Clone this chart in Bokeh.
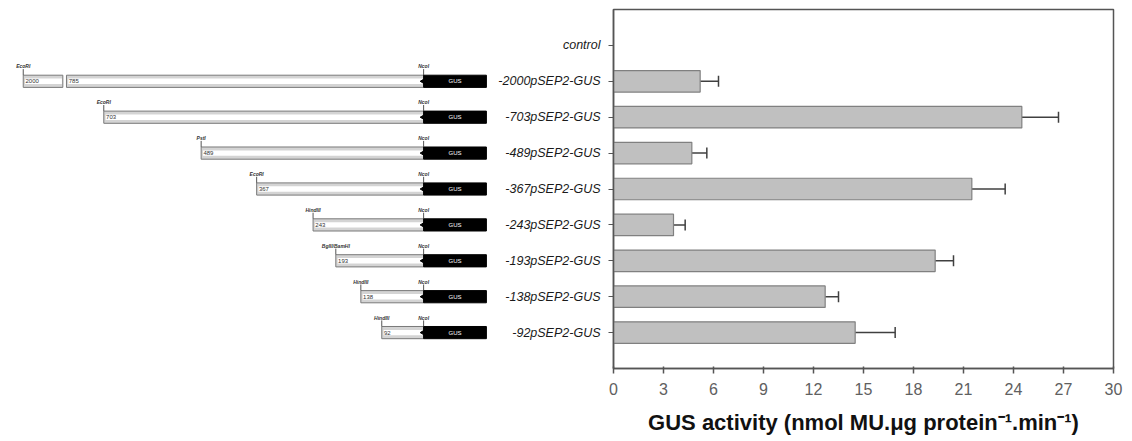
import math
from bokeh.plotting import figure
from bokeh.layouts import row
from bokeh.models import ColumnDataSource, FactorRange, Range1d, FixedTicker, Whisker, TeeHead
from bokeh.transform import dodge
from bokeh.core.properties import value
from bokeh.embed import file_html
from bokeh.resources import INLINE

# ---------------- data ----------------
categories = ["control", "-2000pSEP2-GUS", "-703pSEP2-GUS", "-489pSEP2-GUS",
              "-367pSEP2-GUS", "-243pSEP2-GUS", "-193pSEP2-GUS",
              "-138pSEP2-GUS", "-92pSEP2-GUS"]
gus_activity = [0.0, 5.2, 24.5, 4.7, 21.5, 3.6, 19.3, 12.7, 14.5]
gus_error = [0.0, 1.1, 2.2, 0.9, 2.0, 0.7, 1.1, 0.8, 2.4]
x_ticks = [0, 3, 6, 9, 12, 15, 18, 21, 24, 27, 30]

constructs = categories[1:]
promoter_len = [2000, 703, 489, 367, 243, 193, 138, 92]
site_5prime = ["EcoRI", "EcoRI", "PstI", "EcoRI", "HindIII", "BglII/BamHI", "HindIII", "HindIII"]
site_3prime = "NcoI"
# the -2000 fragment is drawn with a break: stub labelled 2000, main part labelled 785
break_shown = 785
break_stub = (880, 793)

x_title = "GUS activity (nmol MU.\u03bcg protein\u207b\u00b9.min\u207b\u00b9)"

FONT = "Liberation Sans"
H = 441
TOP = 9
BOTTOM = 73
GUS_LEN = 138  # drawing width of GUS box, in bp units of the diagram

y_range = FactorRange(factors=categories[::-1], range_padding=0.5,
                      range_padding_units="absolute")

# ---------------- left: construct diagram ----------------
left = figure(width=490, height=H, x_range=Range1d(-930, 147), y_range=y_range,
              output_backend="svg", toolbar_location=None,
              x_axis_location=None, y_axis_location=None,
              min_border_left=0, min_border_right=0,
              min_border_top=TOP, min_border_bottom=BOTTOM)
left.grid.visible = False
left.outline_line_color = None

seg_y, seg_l, seg_r, seg_lab = [], [], [], []
for c, L in zip(constructs, promoter_len):
    if L > break_shown:
        seg_y += [c, c]
        seg_l += [-break_stub[0], -break_shown]
        seg_r += [-break_stub[1], 0]
        seg_lab += [str(L), str(break_shown)]
    else:
        seg_y.append(c)
        seg_l.append(-L)
        seg_r.append(0)
        seg_lab.append(str(L))
seg = ColumnDataSource(dict(y=seg_y, left=seg_l, right=seg_r, lab=seg_lab,
                            inl=[v + 4 for v in seg_l], inr=[v - 2 for v in seg_r],
                            tx=[v + 5 for v in seg_l]))

left.hbar(y="y", left="left", right="right", height=0.34, source=seg,
          fill_color="#d4d4d4", line_color="#7a7a7a", line_width=1)
left.hbar(y="y", left="inl", right="inr", height=0.15, source=seg,
          fill_color="#ffffff", line_color=None)
left.text(x="tx", y="y", text="lab", source=seg, text_font=value(FONT),
          text_font_size="6px", text_color="#333333", text_baseline="middle",
          text_align="left")

site_x = []
for L in promoter_len:
    site_x.append(-break_stub[0] if L > break_shown else -L)
sites = ColumnDataSource(dict(y=constructs, x=site_x, name=site_5prime,
                              zero=[0] * len(constructs),
                              gr=[GUS_LEN] * len(constructs),
                              gx=[GUS_LEN / 2] * len(constructs),
                              nco=[site_3prime] * len(constructs),
                              gus=["GUS"] * len(constructs)))

for xcol, tcol in (("x", "name"), ("zero", "nco")):
    left.segment(x0=xcol, x1=xcol, y0=dodge("y", 0.17, range=y_range),
                 y1=dodge("y", 0.34, range=y_range), source=sites,
                 line_color="#555555", line_width=1)
    left.text(x=xcol, y=dodge("y", 0.42, range=y_range), text=tcol, source=sites,
              text_font=value(FONT), text_font_size="5px", text_font_style="bold italic",
              text_color="#333333", text_align="center", text_baseline="middle")

left.hbar(y="y", left="zero", right="gr", height=0.34, source=sites,
          fill_color="#000000", line_color="#000000")
left.scatter(x="zero", y="y", source=sites, marker="triangle", angle=math.pi / 2,
             size=6, fill_color="#000000", line_color="#000000")
left.text(x="gx", y="y", text="gus", source=sites, text_font=value(FONT),
          text_font_size="6px", text_color="#ffffff", text_align="center",
          text_baseline="middle")

# ---------------- right: bar chart ----------------
right = figure(width=633, height=H, x_range=Range1d(0, 30), y_range=y_range,
               output_backend="svg", toolbar_location=None,
               min_border_left=123, min_border_right=10,
               min_border_top=TOP, min_border_bottom=BOTTOM)
right.grid.visible = False
right.outline_line_color = "#555555"
right.outline_line_width = 1.5

bars = ColumnDataSource(dict(
    y=[c for c, v in zip(categories, gus_activity) if v > 0],
    v=[v for v in gus_activity if v > 0],
    hi=[v + e for v, e in zip(gus_activity, gus_error) if v > 0]))

right.hbar(y="y", left=0, right="v", height=0.6, source=bars,
           fill_color="#c0c0c0", line_color="#808080", line_width=1.2)
right.add_layout(Whisker(base="y", lower="v", upper="hi", dimension="width",
                         source=bars, line_color="#404040", line_width=1.5,
                         upper_head=TeeHead(size=11, line_color="#404040", line_width=1.5),
                         lower_head=None))

xa = right.xaxis[0]
xa.ticker = FixedTicker(ticks=x_ticks)
xa.minor_tick_line_color = None
xa.major_tick_in = 2
xa.major_tick_out = 5
xa.major_label_standoff = 9
xa.axis_line_color = "#555555"
xa.axis_line_width = 1.5
xa.major_tick_line_color = "#555555"
xa.major_tick_line_width = 1.5
xa.major_label_text_font = FONT
xa.major_label_text_font_size = "16px"
xa.major_label_text_color = "#606060"
xa.axis_label = x_title
xa.axis_label_standoff = 12
xa.axis_label_text_font = FONT
xa.axis_label_text_font_size = "22px"
xa.axis_label_text_font_style = "bold"
xa.axis_label_text_color = "#111111"

ya = right.yaxis[0]
ya.major_tick_in = 0
ya.major_tick_out = 5
ya.minor_tick_line_color = None
ya.major_label_standoff = 8
ya.axis_line_color = "#555555"
ya.axis_line_width = 1.5
ya.major_tick_line_color = "#555555"
ya.major_tick_line_width = 1.2
ya.major_label_text_font = FONT
ya.major_label_text_font_size = "12.5px"
ya.major_label_text_font_style = "italic"
ya.major_label_text_color = "#1a1a1a"

layout = row(left, right)
open("out.html", "w").write(file_html(layout, INLINE))
